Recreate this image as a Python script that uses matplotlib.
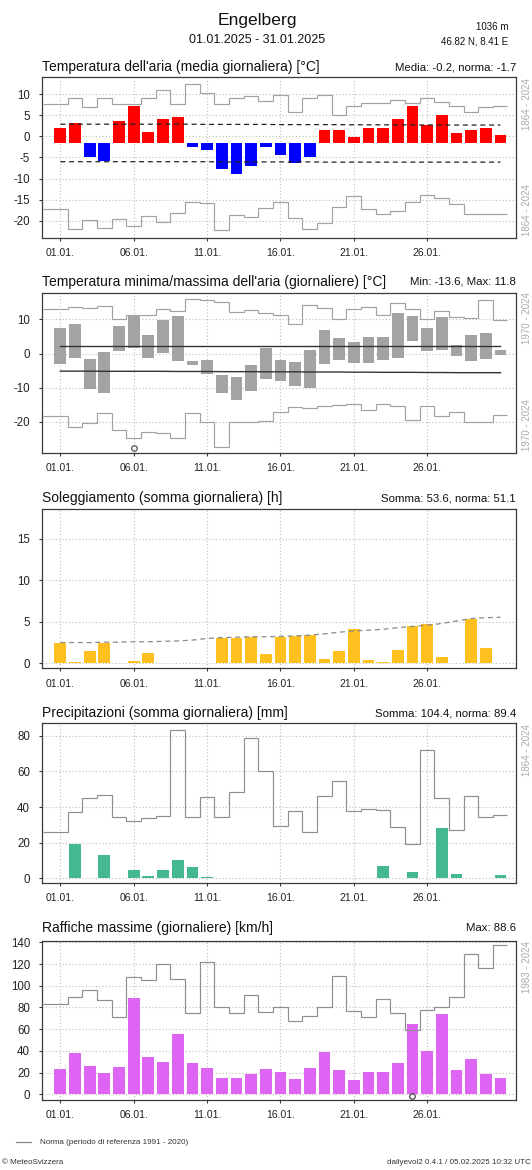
import numpy as np
import matplotlib
matplotlib.use('Agg')
import matplotlib.pyplot as plt
from matplotlib.lines import Line2D

plt.rcParams['font.family'] = ['Liberation Sans', 'DejaVu Sans']
plt.rcParams['axes.unicode_minus'] = False

# ---------------- data ----------------
days = np.arange(1, 32)
date_ticks = [1, 6, 11, 16, 21, 26]
date_labels = ['01.01.', '06.01.', '11.01.', '16.01.', '21.01.', '26.01.']

# Panel 1: daily mean temperature
tmean = [2.0, 3.3, -4.9, -5.9, 3.75, 7.2, 1.0, 4.1, 4.5, -2.6, -3.3, -7.8, -9.0, -6.9, -2.6,
         -4.5, -6.3, -4.9, 1.6, 1.5, -0.2, 1.95, 1.95, 4.1, 7.3, 2.6, 5.2, 0.9, 1.5, 1.9, 0.3]
tmean_norm = -1.55
tmean_rec_max = [7.7, 9.2, 6.9, 9.2, 7.8, 7.8, 9.1, 10.9, 7.6, 12.5, 10.3, 7.8, 9.2, 9.7, 8.3,
                 9.9, 5.7, 9.0, 9.9, 5.2, 7.2, 8.0, 8.0, 8.75, 8.0, 9.1, 8.2, 7.2, 5.7, 6.9, 7.2]
tmean_rec_min = [-17.3, -22.0, -19.8, -21.7, -19.5, -21.3, -18.9, -20.2, -18.2, -15.6, -15.9, -22.3,
                 -18.7, -19.0, -17.0, -15.6, -19.3, -22.0, -20.5, -16.8, -14.1, -17.2, -18.4, -17.6,
                 -15.6, -13.8, -14.5, -16.0, -18.5, -18.3, -18.3]
tmean_band_hi = [2.9, 2.9, 2.9, 2.9, 2.9, 2.9, 2.9, 2.9, 2.9, 2.9, 2.85, 2.85, 2.85, 2.85, 2.85, 2.8,
                 2.8, 2.8, 2.8, 2.8, 2.75, 2.75, 2.75, 2.75, 2.75, 2.7, 2.7, 2.7, 2.7, 2.7, 2.7]
tmean_band_lo = [-6.0, -6.0, -6.0, -6.0, -6.0, -6.0, -6.0, -6.0, -6.0, -6.0, -6.0, -6.05, -6.05, -6.05,
                 -6.05, -6.05, -6.05, -6.05, -6.1, -6.1, -6.1, -6.1, -6.1, -6.1, -6.1, -6.1, -6.1,
                 -6.1, -6.1, -6.1, -6.1]

# Panel 2: daily min / max temperature
tmax = [7.5, 8.5, -1.5, 0.5, 8.2, 11.3, 5.3, 9.9, 11.0, -2.1, -1.9, -6.4, -6.9, -3.3, 1.5,
        -1.85, -2.4, 0.9, 6.9, 4.5, 3.3, 4.8, 4.8, 11.8, 11.1, 7.5, 10.8, 2.6, 5.55, 6.0, 1.1]
tmin = [-3.0, -1.4, -10.5, -11.6, 0.6, 1.7, -1.4, 0.3, -2.2, -3.4, -6.1, -11.4, -13.6, -11.1, -7.5,
        -8.0, -9.4, -10.1, -3.1, -1.75, -2.8, -2.9, -1.85, -1.3, 3.6, 0.7, 1.1, -0.8, -2.2, -1.6, -0.5]
tmax_norm = [2.1, 2.1, 2.1, 2.1, 2.1, 2.1, 2.1, 2.1, 2.1, 2.1, 2.1, 2.1, 2.1, 2.1, 2.1, 2.1,
             2.1, 2.1, 2.1, 2.1, 2.1, 2.1, 2.1, 2.1, 2.1, 2.1, 2.1, 2.1, 2.1, 2.1, 2.1]
tmin_norm = [-5.15, -5.15, -5.15, -5.2, -5.2, -5.2, -5.2, -5.2, -5.25, -5.25, -5.25, -5.3, -5.3,
             -5.3, -5.35, -5.35, -5.35, -5.4, -5.4, -5.4, -5.45, -5.45, -5.5, -5.5, -5.5, -5.55,
             -5.55, -5.6, -5.6, -5.6, -5.6]
tmax_rec = [13.0, 13.5, 13.2, 13.8, 10.2, 11.2, 11.2, 13.0, 12.3, 16.1, 15.8, 15.1, 12.1, 12.7, 11.9,
            11.2, 8.7, 14.3, 13.3, 10.2, 13.0, 13.5, 11.4, 14.8, 13.0, 10.2, 12.4, 10.7, 10.4, 15.6, 9.9]
tmin_rec = [-18.2, -21.5, -20.2, -17.5, -22.4, -24.8, -23.0, -23.3, -24.7, -17.5, -19.9, -27.4,
            -19.9, -19.9, -19.6, -17.1, -15.6, -15.9, -15.3, -15.1, -14.9, -16.6, -14.9, -15.4,
            -19.3, -15.3, -18.3, -17.1, -20.1, -20.1, -17.9]
tmin_marker_day, tmin_marker_val = 6, -27.7

# Panel 3: sunshine
sun = [2.5, 0.1, 1.5, 2.5, 0.05, 0.3, 1.2, 0.05, 0.0, 0.0, 0.0, 3.1, 3.1, 3.2, 1.1, 3.2,
       3.3, 3.4, 0.5, 1.5, 4.1, 0.4, 0.1, 1.6, 4.5, 4.7, 0.8, 0.0, 5.4, 1.8, 0.0]
sun_norm = [2.5, 2.5, 2.5, 2.55, 2.55, 2.6, 2.6, 2.65, 2.7, 2.8, 3.0, 3.1, 3.15, 3.2, 3.2, 3.25,
            3.3, 3.4, 3.55, 3.75, 3.9, 4.0, 4.1, 4.3, 4.45, 4.6, 4.8, 5.1, 5.4, 5.5, 5.55]

# Panel 4: precipitation
precip = [0.0, 19.5, 0.0, 12.8, 0.0, 4.7, 1.5, 4.9, 10.3, 6.4, 0.8, 0.0, 0.0, 0.0, 0.0, 0.0,
          0.0, 0.0, 0.0, 0.0, 0.0, 0.0, 6.9, 0.0, 3.6, 0.0, 28.2, 2.6, 0.0, 0.0, 1.7]
precip_rec = [25.8, 37.0, 44.9, 46.5, 34.2, 32.1, 33.8, 35.1, 83.0, 34.2, 45.4, 34.2, 48.6, 78.9,
              60.4, 29.5, 37.9, 26.0, 46.2, 54.6, 37.8, 38.7, 38.1, 28.6, 19.1, 71.8, 44.9, 27.1,
              46.0, 34.6, 35.7]

# Panel 5: gusts
gust = [23.3, 37.7, 25.8, 19.6, 25.5, 88.6, 34.7, 29.4, 55.2, 28.5, 24.2, 15.3, 15.3, 18.7, 23.0,
        20.6, 14.1, 24.5, 39.3, 22.4, 13.2, 20.6, 20.2, 28.5, 64.7, 40.2, 73.6, 22.4, 32.2, 18.7, 14.7]
gust_rec = [82.9, 89.9, 96.0, 86.5, 71.2, 108.1, 105.3, 120.0, 106.2, 75.2, 121.6, 80.8, 75.0, 91.6,
            75.8, 80.8, 67.7, 72.0, 80.6, 108.8, 76.6, 70.8, 87.7, 75.2, 59.2, 77.6, 80.0, 89.2,
            129.0, 116.6, 137.4]
gust_marker_day, gust_marker_val = 25, -1.2

# ---------------- layout ----------------
W, H = 532, 1170
fig = plt.figure(figsize=(W / 100, H / 100), dpi=100)


def fx(x):
    return x / W


def fy(y):
    return 1 - y / H


XLIM = (-0.25, 32.06)
edges = np.concatenate(([-0.2], np.arange(1.5, 31.0, 1.0), [31.45]))

SPINE = '#3a3a3a'
GRID = '#bdbdbd'
REC = '#a2a2a2'
REC2 = '#8e8e8e'


def make_ax(top, bottom, ylim, yticks):
    ax = fig.add_axes([fx(42), fy(bottom), (516 - 42) / W, (bottom - top) / H])
    ax.set_xlim(*XLIM)
    ax.set_ylim(*ylim)
    ax.set_xticks(date_ticks)
    ax.set_xticklabels(date_labels)
    ax.set_yticks(yticks)
    ax.set_yticklabels([str(t) for t in yticks])
    ax.set_axisbelow(True)
    ax.grid(True, color=GRID, linestyle=(0, (1, 2)), linewidth=0.8)
    for s in ax.spines.values():
        s.set_color(SPINE)
        s.set_linewidth(0.9)
    ax.tick_params(axis='x', direction='out', length=2.5, width=0.8, color=SPINE,
                   labelsize=7.5, pad=5, labelcolor='#222222')
    ax.tick_params(axis='y', direction='out', length=2.5, width=0.8, color=SPINE,
                   labelsize=8.3, pad=6, labelcolor='#222222')
    return ax


def titles(y, left, right):
    fig.text(fx(42), fy(y), left, ha='left', va='center', fontsize=10, color='#111111')
    fig.text(fx(516), fy(y), right, ha='right', va='center', fontsize=8.2, color='#111111')


def side_label(y, txt):
    fig.text(fx(527), fy(y), txt, rotation=90, ha='center', va='center', fontsize=7,
             color='#aaaaaa')


# header
fig.text(fx(257), fy(21), 'Engelberg', ha='center', va='center', fontsize=12.6, color='#111111')
fig.text(fx(257), fy(40), '01.01.2025 - 31.01.2025', ha='center', va='center', fontsize=9,
         color='#111111')
fig.text(fx(508), fy(27), '1036 m', ha='right', va='center', fontsize=7, color='#111111')
fig.text(fx(508), fy(42), '46.82 N, 8.41 E', ha='right', va='center', fontsize=7, color='#111111')

# ---- Panel 1 ----
ax1 = make_ax(77, 238, (-24.1, 14.1), [-20, -15, -10, -5, 0, 5, 10])
tm = np.array(tmean)
cols = ['#ff0000' if v >= tmean_norm else '#0000ff' for v in tm]
ax1.bar(days, tm - tmean_norm, bottom=tmean_norm, width=0.8, color=cols, zorder=2)
ax1.plot(days, tmean_band_hi, color='#222222', ls=(0, (4, 3)), lw=0.9, zorder=3)
ax1.plot(days, tmean_band_lo, color='#222222', ls=(0, (4, 3)), lw=0.9, zorder=3)
ax1.stairs(tmean_rec_max, edges, baseline=None, color=REC, lw=0.85, zorder=3)
ax1.stairs(tmean_rec_min, edges, baseline=None, color=REC, lw=0.85, zorder=3)
titles(67, "Temperatura dell'aria (media giornaliera) [°C]", 'Media: -0.2, norma: -1.7')
side_label(104, '1864 - 2024')
side_label(210, '1864 - 2024')

# ---- Panel 2 ----
ax2 = make_ax(292.7, 453, (-29.1, 17.8), [-20, -10, 0, 10])
tx, tn = np.array(tmax), np.array(tmin)
ax2.bar(days, tx - tn, bottom=tn, width=0.8, color='#a3a3a3', zorder=2)
ax2.plot(days, tmax_norm, color='#333333', lw=1.0, zorder=3)
ax2.plot(days, tmin_norm, color='#333333', lw=1.0, zorder=3)
ax2.stairs(tmax_rec, edges, baseline=None, color=REC, lw=0.85, zorder=3)
ax2.stairs(tmin_rec, edges, baseline=None, color=REC, lw=0.85, zorder=3)
ax2.plot([tmin_marker_day], [tmin_marker_val], 'o', ms=4, mfc='none', mec='#555555', mew=0.9,
         zorder=4, clip_on=False)
titles(281.7, "Temperatura minima/massima dell'aria (giornaliere) [°C]", 'Min: -13.6, Max: 11.8')
side_label(318, '1970 - 2024')
side_label(425, '1970 - 2024')

# ---- Panel 3 ----
ax3 = make_ax(509, 668.3, (-0.6, 18.6), [0, 5, 10, 15])
ax3.bar(days, sun, width=0.8, color='#fdc01e', zorder=2)
ax3.plot(days, sun_norm, color='#8a8a8a', ls=(0, (4, 3)), lw=0.9, zorder=3)
titles(498.3, 'Soleggiamento (somma giornaliera) [h]', 'Somma: 53.6, norma: 51.1')

# ---- Panel 4 ----
ax4 = make_ax(723.3, 882.7, (-2.5, 87), [0, 20, 40, 60, 80])
ax4.bar(days, precip, width=0.8, color='#43b892', zorder=2)
ax4.stairs(precip_rec, edges, baseline=None, color=REC2, lw=0.85, zorder=3)
titles(713.3, 'Precipitazioni (somma giornaliera) [mm]', 'Somma: 104.4, norma: 89.4')
side_label(750, '1864 - 2024')

# ---- Panel 5 ----
ax5 = make_ax(941, 1100, (-5.3, 141.2), [0, 20, 40, 60, 80, 100, 120, 140])
ax5.bar(days, gust, width=0.8, color='#de64f4', zorder=2)
ax5.stairs(gust_rec, edges, baseline=None, color=REC2, lw=0.85, zorder=3)
ax5.plot([gust_marker_day], [gust_marker_val], 'o', ms=4, mfc='none', mec='#444444', mew=0.9,
         zorder=4, clip_on=False)
titles(928.3, 'Raffiche massime (giornaliere) [km/h]', 'Max: 88.6')
side_label(967, '1983 - 2024')

# footer
fig.add_artist(Line2D([fx(16), fx(31)], [fy(1142), fy(1142)], color='#888888', lw=0.9))
fig.text(fx(40), fy(1142), 'Norma (periodo di referenza 1991 - 2020)', ha='left', va='center',
         fontsize=5.8, color='#333333')
fig.text(fx(2), fy(1162), '© MeteoSvizzera', ha='left', va='center', fontsize=5.8, color='#333333')
fig.text(fx(531), fy(1162), 'dailyevol2 0.4.1 / 05.02.2025 10:32 UTC', ha='right', va='center',
         fontsize=5.8, color='#333333')

fig.savefig('out.png', dpi=100)
